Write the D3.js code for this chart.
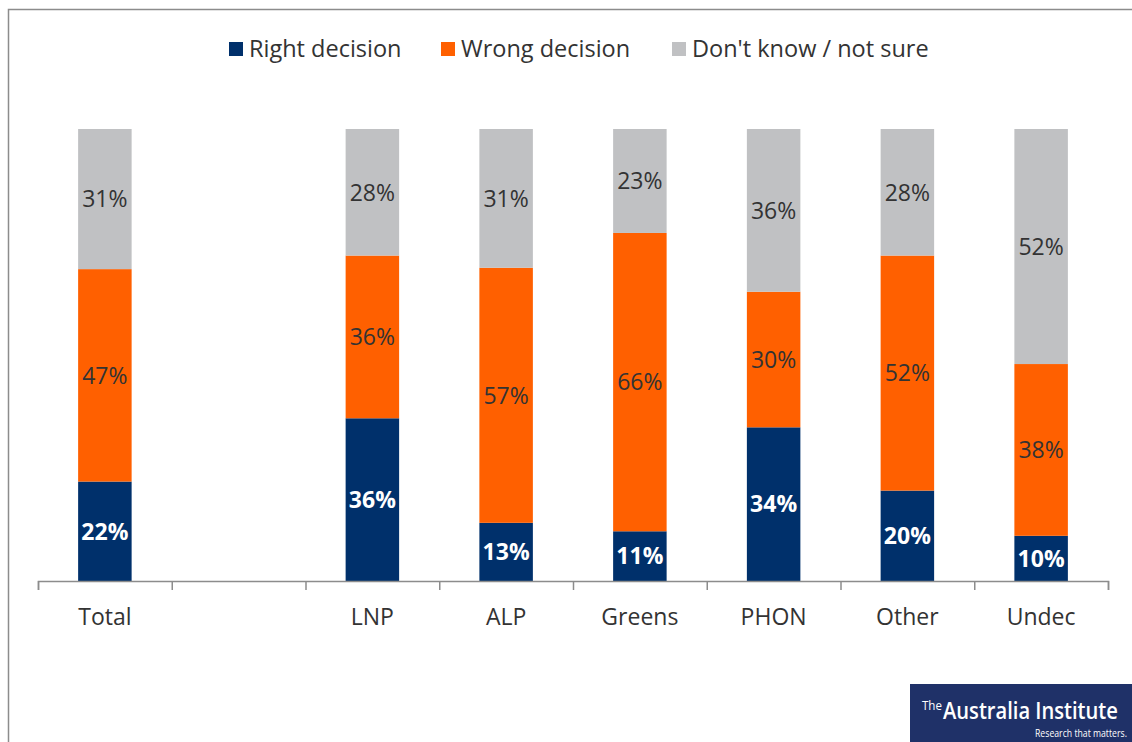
<!DOCTYPE html>
<html>
<head>
<meta charset="utf-8">
<script src="https://cdn.jsdelivr.net/npm/d3@7"></script>
<style>
  body { margin: 0; background: #fff; }
  svg { display: block; font-family: "Open Sans", "Noto Sans", sans-serif; }
</style>
</head>
<body>
<div id="chart"></div>
<script>
// data
const categories = ["Total", "", "LNP", "ALP", "Greens", "PHON", "Other", "Undec"];
const seriesNames = ["Right decision", "Wrong decision", "Don't know / not sure"];
const rightDecision = [22, null, 36, 13, 11, 34, 20, 10];
const wrongDecision = [47, null, 36, 57, 66, 30, 52, 38];
const dontKnow = [31, null, 28, 31, 23, 36, 28, 52];
const colors = ["#00306b", "#ff6000", "#c0c1c3"];

const W = 1132, H = 742;
const margin = { top: 129, right: 24, bottom: 161, left: 38 };
const width = W - margin.left - margin.right;
const height = H - margin.top - margin.bottom;

const svg = d3.select("#chart").append("svg")
  .attr("width", W)
  .attr("height", H);

// outer frame (only top and left visible)
svg.append("path")
  .attr("d", `M8.5,${H} V9.5 H${W}`)
  .attr("fill", "none")
  .attr("stroke", "#8c8c8c")
  .attr("stroke-width", 1.5);

// build rows for the stack
const rows = categories.map((c, i) => ({
  key: c || "blank",
  label: c,
  values: [rightDecision[i], wrongDecision[i], dontKnow[i]]
}));

const xScale = d3.scaleBand()
  .domain(rows.map(d => d.key))
  .range([0, width])
  .paddingInner(0.6)
  .paddingOuter(0.3);

const yScale = d3.scaleLinear()
  .domain([0, 1])
  .range([height, 0]);

const chart = svg.append("g")
  .attr("transform", `translate(${margin.left},${margin.top})`);

// 100% stacked: each segment is share of the row total
const segs = [];
rows.forEach(r => {
  if (r.values[0] == null) return;
  const total = d3.sum(r.values);
  let acc = 0;
  r.values.forEach((v, s) => {
    segs.push({ key: r.key, s: s, v: v, y0: acc / total, y1: (acc + v) / total });
    acc += v;
  });
});

chart.selectAll(".bar")
  .data(segs)
  .join("rect")
  .attr("class", "bar")
  .attr("x", d => xScale(d.key))
  .attr("width", xScale.bandwidth())
  .attr("y", d => yScale(d.y1))
  .attr("height", d => yScale(d.y0) - yScale(d.y1))
  .attr("fill", d => colors[d.s]);

chart.selectAll(".val")
  .data(segs)
  .join("text")
  .attr("class", "val")
  .attr("x", d => xScale(d.key) + xScale.bandwidth() / 2)
  .attr("y", d => yScale((d.y0 + d.y1) / 2))
  .attr("dy", "0.36em")
  .attr("text-anchor", "middle")
  .attr("font-size", 23)
  .attr("font-weight", d => d.s === 0 ? 700 : 400)
  .attr("fill", d => d.s === 0 ? "#fff" : "#333")
  .text(d => d.v + "%");

// category axis: ticks sit between categories
const boundary = d3.scaleLinear().domain([0, categories.length]).range([0, width]);
const xAxis = d3.axisBottom(boundary)
  .tickValues(d3.range(0, categories.length + 1))
  .tickSize(9)
  .tickFormat("");

const xAxisG = chart.append("g")
  .attr("class", "axis x-axis")
  .attr("transform", `translate(0,${height})`)
  .call(xAxis);
xAxisG.select(".domain").attr("stroke", "#8c8c8c").attr("stroke-width", 1.5);
xAxisG.selectAll(".tick line").attr("stroke", "#8c8c8c").attr("stroke-width", 1.5);

chart.selectAll(".cat")
  .data(rows)
  .join("text")
  .attr("class", "cat")
  .attr("x", d => xScale(d.key) + xScale.bandwidth() / 2)
  .attr("y", height + 36)
  .attr("dy", "0.36em")
  .attr("text-anchor", "middle")
  .attr("font-size", 23)
  .attr("fill", "#333")
  .text(d => d.label);

// legend
const legendX = [229, 441, 672];
const legend = svg.append("g").attr("class", "legend");
seriesNames.forEach((name, i) => {
  legend.append("rect")
    .attr("x", legendX[i])
    .attr("y", 42)
    .attr("width", 14)
    .attr("height", 14)
    .attr("fill", colors[i]);
  legend.append("text")
    .attr("x", legendX[i] + 20)
    .attr("y", 49)
    .attr("dy", "0.36em")
    .attr("font-size", 23.5)
    .attr("fill", "#333")
    .text(name);
});

// logo block, texts squeezed horizontally to fit the box
const logo = svg.append("g").attr("class", "logo");
logo.append("rect")
  .attr("x", 910).attr("y", 684)
  .attr("width", 222).attr("height", 58)
  .attr("fill", "#1f3168");

function squeezed(txt, x, y, size, weight, targetW) {
  const g = logo.append("g");
  const t = g.append("text")
    .attr("font-size", size)
    .attr("font-weight", weight)
    .attr("fill", "#fff")
    .text(txt);
  const k = targetW / t.node().getComputedTextLength();
  g.attr("transform", `translate(${x},${y}) scale(${k},1)`);
}
squeezed("The", 922, 710, 13, 400, 20);
squeezed("Australia Institute", 943, 719, 24, 600, 175);
squeezed("Research that matters.", 1035, 737, 11, 400, 92);
</script>
</body>
</html>
